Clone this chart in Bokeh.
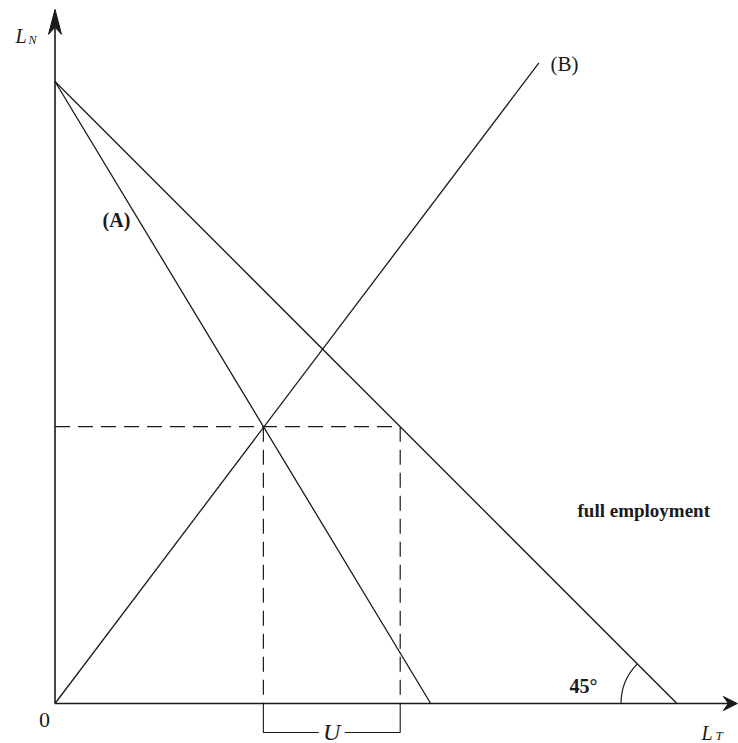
import math
from bokeh.plotting import figure
from bokeh.models import Range1d, Label
from bokeh.embed import file_html
from bokeh.resources import INLINE

# ---- data (economic units: L_T on x, L_N on y) ----
full_emp_x = [0.0, 10.0]      # full employment line, 45 degrees
full_emp_y = [10.0, 0.0]
line_a_x = [0.0, 6.04]        # curve (A)
line_a_y = [10.0, 0.0]
line_b_x = [0.0, 7.78]        # curve (B)
line_b_y = [0.0, 10.30]
eq_point = [3.35, 4.45]       # intersection of (A) and (B)
fe_point = [5.55, 4.45]       # full employment at the same L_N
axis_x_end = 10.97
axis_y_end = 11.16
labels_text = {"a": "(A)", "b": "(B)", "fe": "full employment", "ang": "45°",
               "zero": "0", "u": "U"}

# ---- layout ----
PX = 62.2                      # pixels per unit
W, H = 738, 743
ORIGIN_X, ORIGIN_Y = 54.5, 703.0   # pixel position of the origin in the figure
x_start = -ORIGIN_X / PX
y_end = ORIGIN_Y / PX


def dx(px):
    return px / PX


def ux(page_x):
    return (page_x - ORIGIN_X) / PX


def uy(page_y):
    return (ORIGIN_Y - page_y) / PX


p = figure(width=W, height=H,
           x_range=Range1d(x_start, x_start + W / PX),
           y_range=Range1d(y_end - H / PX, y_end),
           x_axis_location=None, y_axis_location=None,
           output_backend="svg", toolbar_location=None, min_border=0)
p.grid.visible = False
p.outline_line_color = None
p.background_fill_color = "white"
p.border_fill_color = "white"

INK = "#1a1a1a"
LW = 1.3

# axes
p.line([0, 0], [0, axis_y_end - dx(18)], line_color=INK, line_width=1.6)
p.line([0, axis_x_end - dx(9)], [0, 0], line_color=INK, line_width=1.6)
# arrow heads
p.patch([0, -dx(6.5), 0, dx(6.5)],
        [axis_y_end, axis_y_end - dx(25), axis_y_end - dx(18), axis_y_end - dx(25)],
        fill_color=INK, line_color=INK, line_width=1)
p.patch([axis_x_end, axis_x_end - dx(14), axis_x_end - dx(9), axis_x_end - dx(14)],
        [0, dx(7), 0, -dx(7)],
        fill_color=INK, line_color=INK, line_width=1)

# curves
p.line(full_emp_x, full_emp_y, line_color=INK, line_width=LW)
p.line(line_a_x, line_a_y, line_color=INK, line_width=LW)
p.line(line_b_x, line_b_y, line_color=INK, line_width=LW)

# dashed guides
DASH = "15 8"
p.line([0, fe_point[0]], [eq_point[1], fe_point[1]], line_color=INK,
       line_width=1.2, line_dash=DASH)
p.line([eq_point[0], eq_point[0]], [eq_point[1], 0], line_color=INK,
       line_width=1.2, line_dash=DASH)
p.line([fe_point[0], fe_point[0]], [fe_point[1], 0], line_color=INK,
       line_width=1.2, line_dash=DASH)

# U bracket below the axis
depth = dx(29)
mid = (eq_point[0] + fe_point[0]) / 2
gap = dx(13)
p.line([eq_point[0], eq_point[0], mid - gap], [0, -depth, -depth],
       line_color=INK, line_width=1.1)
p.line([mid + gap, fe_point[0], fe_point[0]], [-depth, -depth, 0],
       line_color=INK, line_width=1.1)

# 45 degree arc
p.arc(x=[full_emp_x[1]], y=[0], radius=dx(56), start_angle=3 * math.pi / 4,
      end_angle=math.pi, direction="anticlock", line_color=INK, line_width=1.2)

SERIF = "Liberation Serif"


def add_label(text, x, y, size, style="normal", align="center", baseline="middle"):
    p.add_layout(Label(x=x, y=y, text=text, text_font=SERIF,
                       text_font_size=size, text_font_style=style,
                       text_color=INK, text_align=align, text_baseline=baseline))


# axis titles
add_label("L", ux(15), uy(35), "20px", "italic", "left", "alphabetic")
add_label("N", ux(28), uy(39), "12px", "italic", "left", "alphabetic")
add_label("L", ux(701), uy(732), "20px", "italic", "left", "alphabetic")
add_label("T", ux(715), uy(735), "13px", "italic", "left", "alphabetic")

add_label(labels_text["zero"], ux(44), uy(719), "22px")
add_label(labels_text["u"], mid, -depth + dx(1), "24px", "italic")
add_label(labels_text["a"], ux(116), uy(219), "20px", "bold")
add_label(labels_text["b"], ux(564), uy(63), "21px")
add_label(labels_text["ang"], ux(583), uy(685), "20px", "bold")
add_label(labels_text["fe"], ux(577), uy(510), "19px", "bold", "left")

open("out.html", "w").write(file_html(p, INLINE))
